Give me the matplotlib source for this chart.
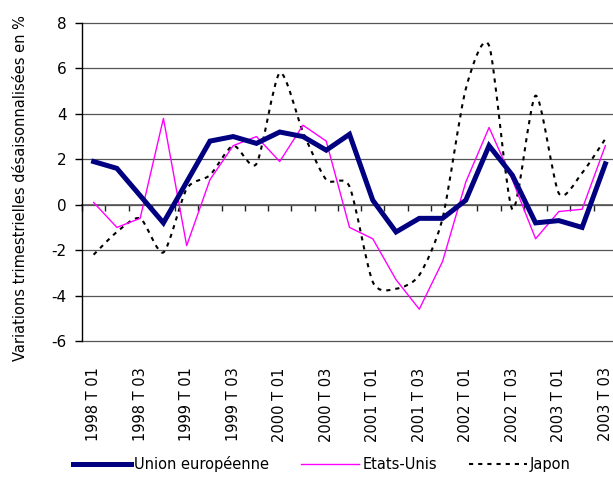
import numpy as np
import matplotlib
matplotlib.use("Agg")
import matplotlib.pyplot as plt
from matplotlib.path import Path
from matplotlib.patches import PathPatch
from matplotlib.lines import Line2D

# quarterly data, 1998 T01 .. 2003 T03
quarters = ["%d T 0%d" % (y, q) for y in range(1998, 2004) for q in (1, 2, 3, 4)][:23]
eu = [1.9, 1.6, 0.4, -0.8, 1.0, 2.8, 3.0, 2.7, 3.2, 3.0, 2.4, 3.1,
      0.2, -1.2, -0.6, -0.6, 0.2, 2.6, 1.3, -0.8, -0.7, -1.0, 1.8]
us = [0.1, -1.0, -0.6, 3.8, -1.8, 1.1, 2.6, 3.0, 1.9, 3.5, 2.8, -1.0,
      -1.5, -3.3, -4.6, -2.5, 1.0, 3.4, 1.1, -1.5, -0.3, -0.2, 2.6]
jp = [-2.2, -1.2, -0.6, -2.1, 0.7, 1.3, 2.6, 1.8, 5.8, 3.2, 1.1, 0.8,
      -3.4, -3.7, -3.1, -0.6, 5.1, 7.0, -0.2, 4.8, 0.5, 1.4, 2.9]
yticks = [-6, -4, -2, 0, 2, 4, 6, 8]

plt.rcParams['font.family'] = 'DejaVu Sans'
plt.rcParams['axes.unicode_minus'] = False

fig = plt.figure(figsize=(6.13, 4.8), dpi=100)
ax = fig.add_axes([82 / 613, 1 - 341 / 480, 535 / 613, 318 / 480])

x = np.arange(len(quarters))

# grid
for v in yticks:
    ax.axhline(v, color='#555555', lw=0.9, zorder=1, clip_on=False)

ax.plot(x, eu, color='#000080', lw=3.6, zorder=4, solid_joinstyle='miter')
ax.plot(x, us, color='#ff00ff', lw=1.0, zorder=3)


def smooth_path(xs, ys, k=1 / 8):
    # excel-like smoothed line (catmull-rom as cubic beziers)
    pts = np.column_stack([xs, ys]).astype(float)
    ext = np.vstack([pts[0], pts, pts[-1]])
    verts = [pts[0]]
    codes = [Path.MOVETO]
    for i in range(len(pts) - 1):
        p0, p1, p2, p3 = ext[i], ext[i + 1], ext[i + 2], ext[i + 3]
        verts += [p1 + (p2 - p0) * k, p2 - (p3 - p1) * k, p2]
        codes += [Path.CURVE4] * 3
    return Path(verts, codes)


jp_style = dict(color='black', lw=1.5, linestyle=(0, (2, 2.4)))
ax.add_patch(PathPatch(smooth_path(x, jp), fill=False, zorder=2, **jp_style))

ax.set_xlim(-0.5, len(quarters) - 0.5)
ax.set_ylim(-6, 8)
ax.set_yticks(yticks)
ax.tick_params(axis='y', direction='out', length=5, width=1, labelsize=11, pad=6)

ax.set_xticks(x[::2])
ax.set_xticklabels(quarters[::2], rotation=90, fontsize=10.5)
ax.tick_params(axis='x', length=0, pad=19)

for s in ['top', 'right', 'bottom']:
    ax.spines[s].set_visible(False)
ax.spines['left'].set_linewidth(1)

# category axis crossing at 0
sec = ax.secondary_xaxis(6 / 14)
sec.set_xticks(np.arange(-0.5, len(quarters), 1))
sec.tick_params(axis='x', direction='out', length=4.5, width=1, labelbottom=False, color='#222222')
sec.spines['bottom'].set_color('#555555')
sec.spines['bottom'].set_linewidth(1.2)

ax.set_ylabel("Variations trimestrielles désaisonnalisées en %", fontsize=10.5)
ax.yaxis.set_label_coords(-0.1, 0.48)

handles = [Line2D([], [], color='#000080', lw=3.6),
           Line2D([], [], color='#ff00ff', lw=1.0),
           Line2D([], [], **jp_style)]
fig.legend(handles, ["Union européenne", "Etats-Unis", "Japon"],
           loc='lower center', bbox_to_anchor=(0.525, -0.01), ncol=3, frameon=False,
           fontsize=10.5, handlelength=4.0, handletextpad=0.2, columnspacing=2.2)

fig.savefig("out.png", dpi=100)
